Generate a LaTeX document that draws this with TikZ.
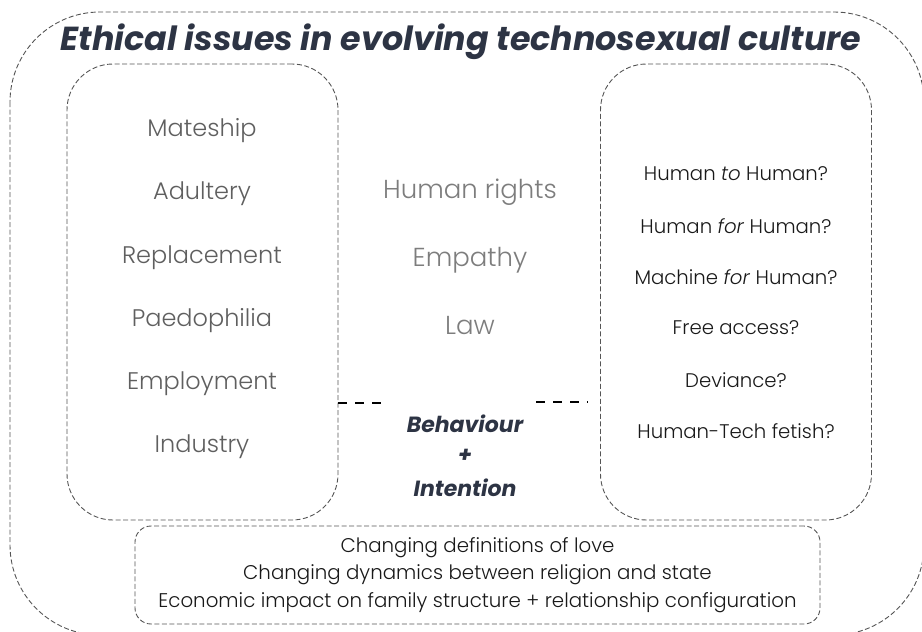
\documentclass[tikz,border=0pt]{standalone}
\usepackage{fontspec}
\setmainfont{Poppins}
\newfontfamily\lightfont{Poppins}[UprightFont=* Light, ItalicFont=* Light Italic]
\usepackage{tikz}
\usetikzlibrary{positioning}
\definecolor{TitleInk}{RGB}{45,52,68}
\definecolor{BoxBorder}{RGB}{85,85,85}
\definecolor{LeftInk}{RGB}{95,95,95}
\definecolor{MidInk}{RGB}{125,125,125}
\definecolor{DarkInk}{RGB}{25,25,25}
\tikzset{
  % Dashed rounded frames
  outerframe/.style={
    draw=BoxBorder,
    line width=0.9pt,
    dash pattern=on 5pt off 2.5pt,
    rounded corners=90pt
  },
  sideframe/.style={
    draw=BoxBorder,
    line width=0.9pt,
    dash pattern=on 5pt off 2.5pt,
    rounded corners=46pt,
    minimum width=271pt,
    minimum height=456pt,
    inner sep=0pt
  },
  baseframe/.style={
    draw=BoxBorder,
    line width=0.9pt,
    dash pattern=on 5pt off 2.5pt,
    rounded corners=16pt,
    minimum width=685pt,
    minimum height=98pt,
    inner sep=0pt
  },
  % Texts
  titletext/.style={
    font=\fontsize{33.3}{38}\selectfont\bfseries\itshape,
    text=TitleInk
  },
  lefttext/.style={
    font=\lightfont\fontsize{24}{28}\selectfont,
    text=LeftInk
  },
  midtext/.style={
    font=\lightfont\fontsize{26}{30}\selectfont,
    text=MidInk
  },
  keytext/.style={
    font=\fontsize{22}{26}\selectfont\bfseries\itshape,
    text=TitleInk
  },
  righttext/.style={
    font=\lightfont\fontsize{19.7}{23}\selectfont,
    text=DarkInk
  },
  basetext/.style={
    font=\lightfont\fontsize{19.8}{27.5}\selectfont,
    text=DarkInk,
    align=center
  },
  % Link dashes
  link/.style={
    draw=black,
    line width=1.6pt,
    dash pattern=on 9pt off 8pt
  }
}
\begin{document}
\begin{tikzpicture}[x=1pt, y=-1pt]
  \useasboundingbox (0,0) rectangle (922,632);

  \draw[outerframe] (10,12) rectangle (924,635);
  \node[titletext] (title) at (461,42) {Ethical issues in evolving technosexual culture};

  \node[sideframe] (left)  at (202.5,292) {};
  \node[sideframe] (right) at (736,292)   {};
  \node[baseframe] (base)  at (477.5,575) {};

  \node[lefttext] (l1) at (202,131) {Mateship};
  \node[lefttext] (l2) at (202,194) {Adultery};
  \node[lefttext] (l3) at (202,258) {Replacement};
  \node[lefttext] (l4) at (202,321) {Paedophilia};
  \node[lefttext] (l5) at (202,384) {Employment};
  \node[lefttext] (l6) at (202,447) {Industry};

  \node[midtext] (c1) at (470,192) {Human rights};
  \node[midtext] (c2) at (470,260) {Empathy};
  \node[midtext] (c3) at (470,326) {Law};

  \node[keytext] (k1) at (465,424) {Behaviour};
  \node[keytext] (k2) at (465,456) {+};
  \node[keytext] (k3) at (465,488) {Intention};

  \node[righttext] (r1) at (736,174) {Human \textit{to} Human?};
  \node[righttext] (r2) at (736,226) {Human \textit{for} Human?};
  \node[righttext] (r3) at (736,277) {Machine \textit{for} Human?};
  \node[righttext] (r4) at (736,328) {Free access?};
  \node[righttext] (r5) at (736,380) {Deviance?};
  \node[righttext] (r6) at (736,431) {Human-Tech fetish?};

  \node[basetext] (b1) at (477.5,575) {Changing definitions of love\\Changing dynamics between religion and state\\Economic impact on family structure + relationship configuration};

  \coordinate (la) at (left.east |- 0,403);
  \coordinate (lb) at (389,403);
  \coordinate (ra) at (536,402);
  \coordinate (rb) at (588,402);
  \draw[link] (la) -- (lb);
  \draw[link] (ra) -- (rb);
\end{tikzpicture}
\end{document}
